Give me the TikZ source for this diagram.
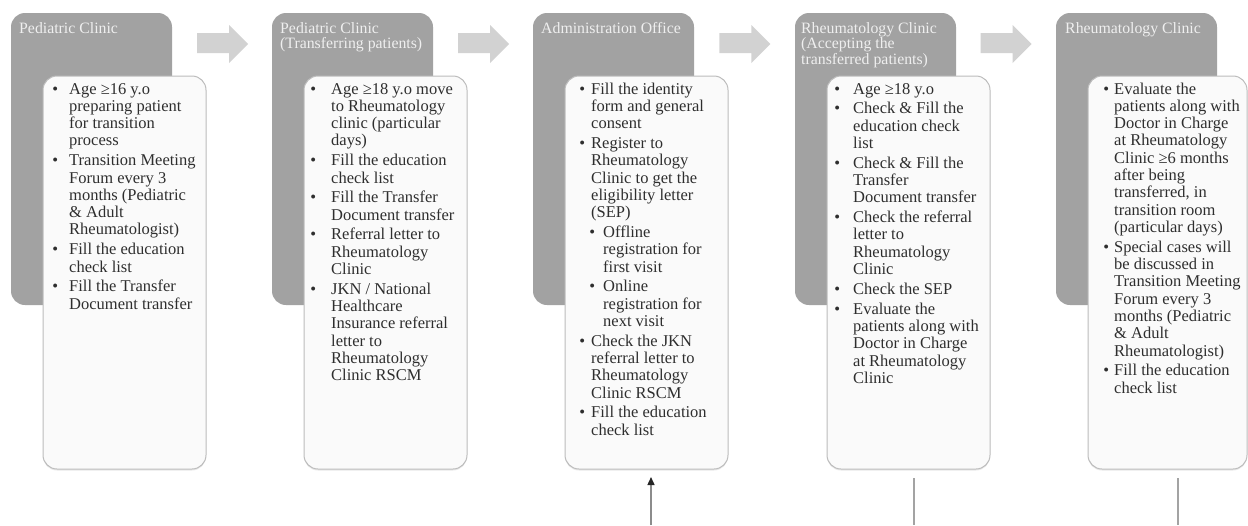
\documentclass[tikz,border=0pt]{standalone}
\usepackage{fontspec}
\setmainfont{Liberation Serif}
\usetikzlibrary{arrows.meta,shadows}
\definecolor{darkg}{HTML}{A2A2A2}
\definecolor{arrowg}{HTML}{D2D2D2}
\definecolor{lightf}{HTML}{FAFAFA}
\definecolor{lightd}{HTML}{BCBCBC}
\definecolor{titlec}{HTML}{EFEFEF}
\definecolor{textc}{HTML}{2E2E2E}
\definecolor{linkc}{HTML}{8C8C8C}
\newcommand{\bu}[1]{\makebox[0pt][r]{\textbullet\hspace{#1}}}
\newcommand{\gp}{\\[2.5pt]}
\newcommand{\sub}{\hspace*{12pt}}
\tikzset{
  darkbox/.style={fill=darkg, draw=none, rounded corners=14pt, anchor=north west,
    minimum width=161pt, minimum height=292pt, inner sep=0pt, outer sep=0pt},
  lightbox/.style={fill=lightf, draw=lightd, line width=1pt, rounded corners=14pt,
    anchor=north west, minimum width=163pt, minimum height=393pt, inner sep=0pt, outer sep=0pt,
    drop shadow={opacity=0.18, shadow xshift=0pt, shadow yshift=-1.5pt}},
  titletext/.style={anchor=base west, inner sep=0pt, text=titlec,
    font=\fontsize{15.8}{15.8}\selectfont},
  bodytext/.style={anchor=base west, inner sep=0pt, text=textc,
    font=\fontsize{16.5}{17.3}\selectfont},
  blockarrow/.style={fill=arrowg, draw=none},
  link/.style={draw=linkc, line width=1.4pt},
}
\begin{document}
\begin{tikzpicture}[x=1pt,y=-1pt]
\useasboundingbox (0,0) rectangle (1248,525);

% block arrows between stages
\foreach \i in {0,...,3}{
  \pgfmathsetmacro{\xo}{197+261.2*\i}
  \fill[blockarrow] (\xo,33) -- ({\xo+32},33) -- ({\xo+32},25) -- ({\xo+51},44)
    -- ({\xo+32},63) -- ({\xo+32},53) -- (\xo,53) -- cycle;
}

% stage 1
\node[darkbox] (d1) at (11,13) {};
\node[titletext] (t1) at (19,33) {\parbox[t]{150pt}{Pediatric Clinic}};
\node[lightbox] (l1) at (43,76) {};
\node[bodytext] (b1) at (69,94) {\parbox[t]{140pt}{\raggedright
\bu{11pt}Age ≥16 y.o\\preparing patient\\for transition\\process\gp
\bu{11pt}Transition Meeting\\Forum every 3\\months (Pediatric\\\& Adult\\Rheumatologist)\gp
\bu{11pt}Fill the education\\check list\gp
\bu{11pt}Fill the Transfer\\Document  transfer}};

% stage 2
\node[darkbox] (d2) at (272,13) {};
\node[titletext] (t2) at (280,33) {\parbox[t]{150pt}{Pediatric Clinic\\(Transferring patients)}};
\node[lightbox] (l2) at (304,76) {};
\node[bodytext] (b2) at (331,94) {\parbox[t]{140pt}{\raggedright
\bu{15pt}Age ≥18 y.o move\\to Rheumatology\\clinic (particular\\days)\gp
\bu{15pt}Fill the education\\check list\gp
\bu{15pt}Fill the Transfer\\Document  transfer\gp
\bu{15pt}Referral letter to\\Rheumatology\\Clinic\gp
\bu{15pt}JKN / National\\Healthcare\\Insurance referral\\letter to\\Rheumatology\\Clinic RSCM}};

% stage 3
\node[darkbox] (d3) at (533,13) {};
\node[titletext] (t3) at (541,33) {\parbox[t]{150pt}{Administration Office}};
\node[lightbox] (l3) at (565,76) {};
\node[bodytext] (b3) at (591,94) {\parbox[t]{140pt}{\raggedright
\bu{6pt}Fill the identity\\form and general\\consent\gp
\bu{6pt}Register to\\Rheumatology\\Clinic to get the\\eligibility letter\\(SEP)\gp
\sub\bu{8pt}Offline\\\sub registration for\\\sub first visit\gp
\sub\bu{8pt}Online\\\sub registration for\\\sub next visit\gp
\bu{6pt}Check the JKN\\referral letter to\\Rheumatology\\Clinic RSCM\gp
\bu{6pt}Fill the education\\check list}};

% stage 4
\node[darkbox] (d4) at (795,13) {};
\node[titletext] (t4) at (801,33) {\parbox[t]{150pt}{Rheumatology Clinic\\(Accepting the\\transferred patients)}};
\node[lightbox] (l4) at (827,76) {};
\node[bodytext] (b4) at (853,94) {\parbox[t]{140pt}{\raggedright
\bu{13pt}Age ≥18 y.o\gp
\bu{13pt}Check \& Fill the\\education check\\list\gp
\bu{13pt}Check \& Fill the\\Transfer\\Document  transfer\gp
\bu{13pt}Check the referral\\letter to\\Rheumatology\\Clinic\gp
\bu{13pt}Check the SEP\gp
\bu{13pt}Evaluate the\\patients along with\\Doctor in Charge\\at Rheumatology\\Clinic}};

% stage 5
\node[darkbox] (d5) at (1056,13) {};
\node[titletext] (t5) at (1065,33) {\parbox[t]{150pt}{Rheumatology Clinic}};
\node[lightbox, minimum width=159pt] (l5) at (1088,76) {};
\node[bodytext] (b5) at (1114,94) {\parbox[t]{140pt}{\raggedright
\bu{5pt}Evaluate the\\patients along with\\Doctor in Charge\\at Rheumatology\\Clinic ≥6 months\\after being\\transferred, in\\transition room\\(particular days)\gp
\bu{5pt}Special cases will\\be discussed in\\Transition Meeting\\Forum every 3\\months (Pediatric\\\& Adult\\Rheumatologist)\gp
\bu{5pt}Fill the education\\check list}};

% connectors at the bottom
\coordinate (c3) at (651,525);
\coordinate (c4) at (914,525);
\coordinate (c5) at (1178,525);
\draw[link, shorten >=8pt, -{Triangle[length=8pt,width=7pt,color=black!85]}] (c3) -- (c3 |- l3.south);
\draw[link, line width=1.1pt, draw=linkc!80, shorten <=9pt] (c4 |- l4.south) -- (c4);
\draw[link, line width=1.1pt, draw=linkc!80, shorten <=9pt] (c5 |- l5.south) -- (c5);
\end{tikzpicture}
\end{document}
